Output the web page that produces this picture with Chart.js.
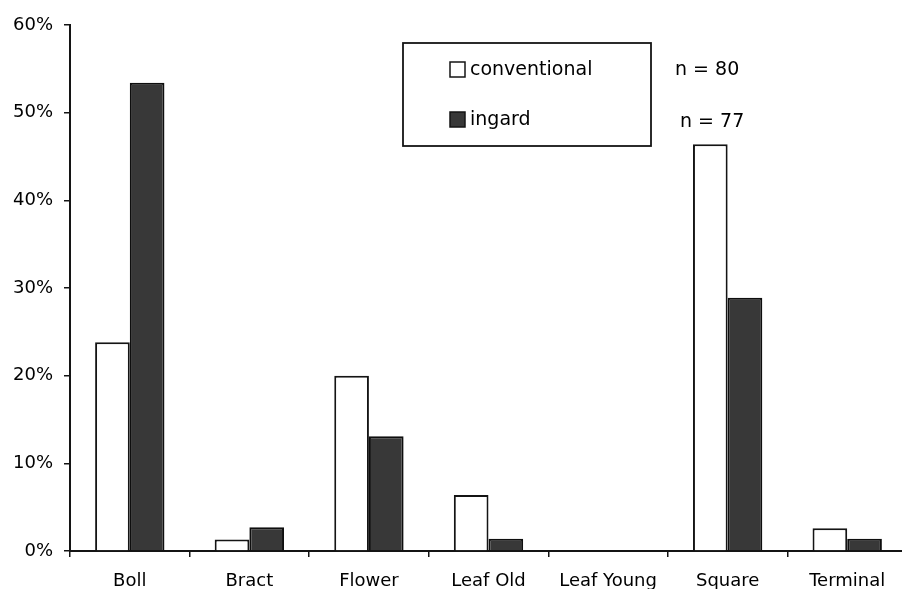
<!DOCTYPE html>
<html>
<head>
<meta charset="utf-8">
<script src="https://cdn.jsdelivr.net/npm/chart.js@4/dist/chart.umd.min.js"></script>
<style>
  html, body { margin: 0; padding: 0; background: #fff; overflow: hidden; }
  #wrap { width: 910px; height: 589px; }
</style>
</head>
<body>
<div id="wrap"><canvas id="chart" width="910" height="589"></canvas></div>
<script>
const categories = ["Boll", "Bract", "Flower", "Leaf Old", "Leaf Young", "Square", "Terminal"];
const conventional = [23.8, 1.3, 20.0, 6.4, 0, 46.4, 2.6];
const ingard = [53.4, 2.7, 13.1, 1.4, 0, 28.9, 1.4];
const sampleSizes = ["n = 80", "n = 77"];
const yTicks = [0, 10, 20, 30, 40, 50, 60];

const FONT = "'DejaVu Sans', sans-serif";
const INK = "#141414";

// legend box with n annotations drawn inside the plot
const legendBox = {
  id: "legendBox",
  afterDraw(chart) {
    const ctx = chart.ctx;
    ctx.save();
    ctx.strokeStyle = INK;
    ctx.lineWidth = 1.8;
    ctx.fillStyle = "#fff";
    ctx.fillRect(403, 43, 248, 103);
    ctx.strokeRect(403, 43, 248, 103);
    ctx.font = "19px " + FONT;
    ctx.textBaseline = "middle";
    const rows = [70, 120];
    chart.data.datasets.forEach((ds, i) => {
      const y = rows[i];
      ctx.fillStyle = ds.backgroundColor;
      ctx.fillRect(450, y - 8, 15, 15);
      ctx.lineWidth = 1.5;
      ctx.strokeRect(450, y - 8, 15, 15);
      ctx.fillStyle = "#000";
      ctx.textAlign = "left";
      ctx.fillText(ds.label, 470, y);
      ctx.fillText(sampleSizes[i], i === 0 ? 675 : 680, y + (i === 0 ? 0 : 2));
    });
    ctx.restore();
  }
};

new Chart(document.getElementById("chart"), {
  type: "bar",
  data: {
    labels: categories,
    datasets: [
      {
        label: "conventional",
        data: conventional,
        backgroundColor: "#ffffff",
        borderColor: INK,
        borderWidth: 2,
      },
      {
        label: "ingard",
        data: ingard,
        backgroundColor: "#383838",
        borderColor: "#0e0e0e",
        borderWidth: 2,
      },
    ],
  },
  options: {
    responsive: false,
    animation: false,
    categoryPercentage: 0.58,
    barPercentage: 1.0,
    layout: { padding: { top: 25, right: 3, left: 0, bottom: 0 } },
    plugins: {
      legend: { display: false },
      tooltip: { enabled: false },
    },
    scales: {
      x: {
        grid: {
          offset: true,
          drawOnChartArea: false,
          tickLength: 6,
          color: INK,
          lineWidth: 1.5,
        },
        border: { color: INK, width: 2 },
        ticks: {
          color: "#000",
          padding: 14,
          font: { family: FONT, size: 18 },
          maxRotation: 0,
        },
        afterFit: (s) => { s.height = 38; },
      },
      y: {
        min: 0,
        max: 60,
        afterBuildTicks: (s) => { s.ticks = yTicks.map((v) => ({ value: v })); },
        grid: {
          drawOnChartArea: false,
          tickLength: 6,
          color: INK,
          lineWidth: 1.5,
        },
        border: { color: INK, width: 2 },
        ticks: {
          color: "#000",
          padding: 11,
          font: { family: FONT, size: 18 },
          callback: (v) => v + "%",
        },
        afterFit: (s) => { s.width = 70; },
      },
    },
  },
  plugins: [legendBox],
});
</script>
</body>
</html>
